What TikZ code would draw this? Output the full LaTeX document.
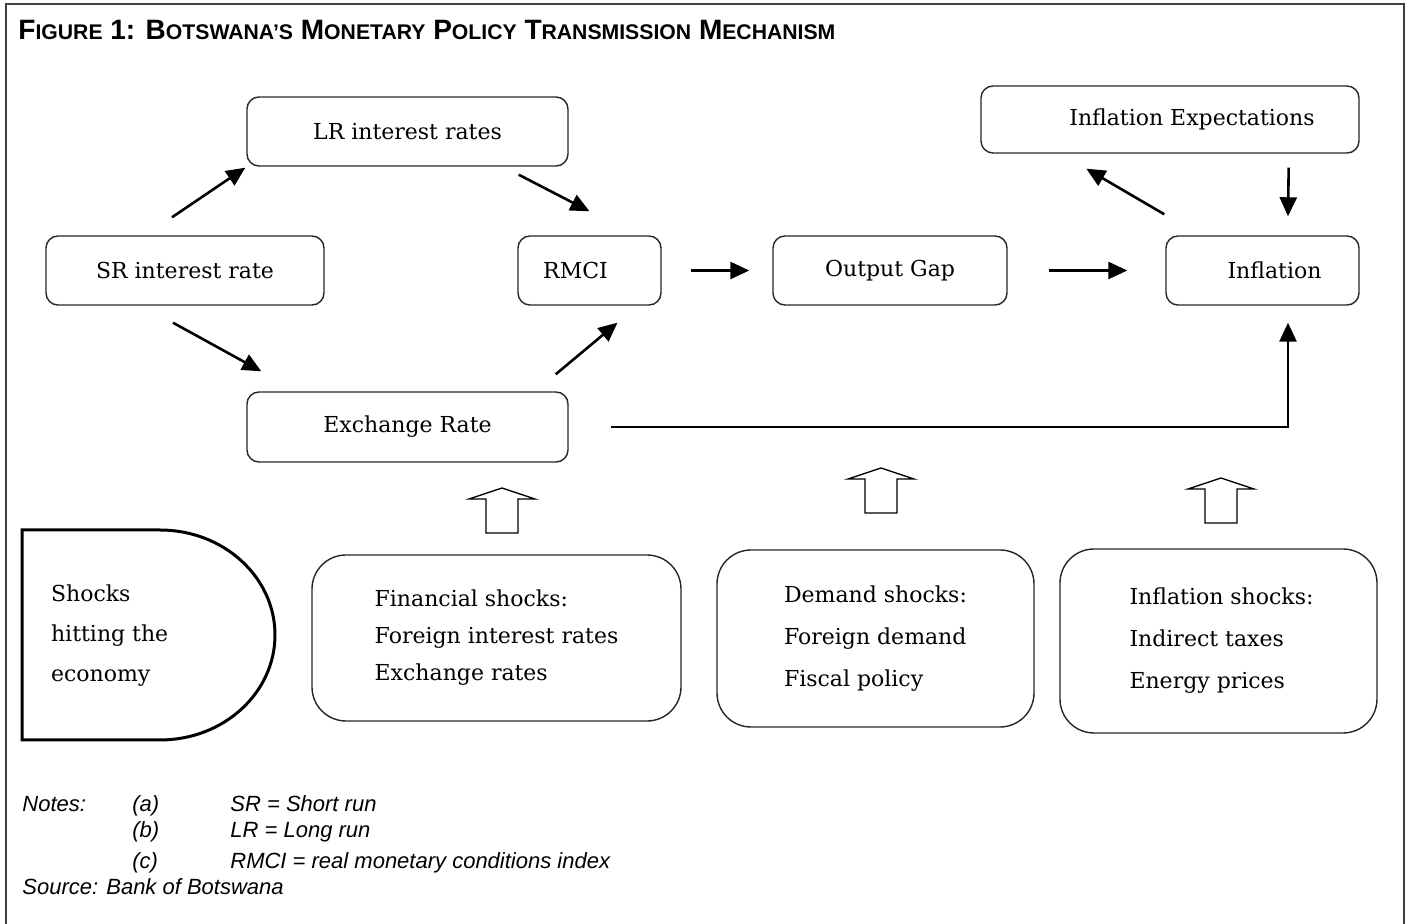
\documentclass[tikz,border=0pt]{standalone}
\usepackage{fontspec}
\setmainfont{DejaVu Serif}
\newfontfamily\sansfont{Liberation Sans}
\usetikzlibrary{arrows.meta,calc}

\newcommand{\smc}[1]{{\fontsize{10.6pt}{12pt}\selectfont #1}}

\tikzset{
  box/.style={draw=black!85, line width=0.7pt, rounded corners=6pt,
    inner sep=0pt, font=\fontsize{11pt}{13pt}\selectfont},
  shockbox/.style={draw=black!85, line width=0.7pt, rounded corners=17pt,
    inner sep=0pt, align=left},
  arr/.style={line width=1.3pt, -{Triangle[length=9.5pt,width=8.5pt]}},
  blockarrow/.style={line width=0.7pt, line join=miter}
}

\begin{document}
\begin{tikzpicture}[x=0.5pt, y=-0.5pt]
\useasboundingbox (0,0) rectangle (1409,924);

% frame and title
\draw[black!75, line width=1pt] (6,924) -- (6,4) -- (1404,4) -- (1404,924);
\node[anchor=base west, inner sep=0pt, font=\sansfont\bfseries\fontsize{14pt}{16pt}\selectfont] (title) at (18,40)
  {F\smc{IGURE} 1: B\smc{OTSWANA’S} M\smc{ONETARY} P\smc{OLICY} T\smc{RANSMISSION} M\smc{ECHANISM}};

% transmission channel
\node[box, minimum width=160.5pt, minimum height=34.5pt] (lr) at (407.5,131.5) {LR interest rates};
\node[box, minimum width=139pt, minimum height=34.5pt] (sr) at (185,270.5) {SR interest rate};
\node[box, minimum width=71.5pt, minimum height=34.5pt] (rmci) at (589.5,270.5) {\hspace{-14pt}RMCI};
\node[box, minimum width=117pt, minimum height=34.5pt] (gap) at (890,270.5) {Output Gap};
\node[box, minimum width=96.5pt, minimum height=34.5pt] (infl) at (1262.5,270.5) {\hspace{12pt}Inflation};
\node[box, minimum width=189pt, minimum height=33.5pt] (expect) at (1170,119.5) {\hspace{22pt}Inflation Expectations};
\node[box, minimum width=160.5pt, minimum height=35pt] (exch) at (407.5,427) {Exchange Rate};

\draw[arr] ([xshift=-6.5pt,yshift=9pt]sr.north) -- ([xshift=-0.5pt,yshift=-0.5pt]lr.south west);
\draw[arr] ([xshift=-25pt,yshift=-4pt]lr.south east) -- ([yshift=12pt]rmci.north);
\draw[arr] ([xshift=-6pt,yshift=-8.5pt]sr.south) -- ([xshift=7.5pt,yshift=10pt]exch.north west);
\draw[arr] ([xshift=-6.5pt,yshift=8.5pt]exch.north east) -- ([xshift=14pt,yshift=-8.5pt]rmci.south);
\draw[arr] ([xshift=14.5pt]rmci.east) -- ([xshift=-11.5pt]gap.west);
\draw[arr] ([xshift=20.5pt]gap.east) -- ([xshift=-19pt]infl.west);
\draw[arr] ([xshift=-0.5pt,yshift=10.5pt]infl.north west) -- ([xshift=53pt,yshift=-7.5pt]expect.south west);
\draw[arr] ([xshift=-35.5pt,yshift=-7pt]expect.south east) -- ([xshift=12.75pt,yshift=9.5pt]infl.north);
\draw[arr] ([xshift=21pt]exch.east) -| ([xshift=12.75pt,yshift=-8.5pt]infl.south);

% shocks
\draw[line width=1.5pt] (22,530) -- (160,530) .. controls (223.5,530) and (275,577) .. (275,635)
  .. controls (275,693) and (223.5,740) .. (160,740) -- (22,740) -- cycle;
\node[anchor=west, align=left, font=\fontsize{11pt}{20pt}\selectfont] (hit) at (44,636)
  {Shocks\\hitting the\\economy};

\node[shockbox, minimum width=184.5pt, minimum height=83pt, font=\fontsize{11pt}{18.5pt}\selectfont] (fin) at (496.5,638)
  {Financial shocks:\\Foreign interest rates\\Exchange rates};
\node[shockbox, minimum width=158.5pt, minimum height=88.5pt, font=\fontsize{11pt}{21pt}\selectfont] (dem) at (875.5,638.5)
  {Demand shocks:\\Foreign demand\\Fiscal policy\hspace{3pt}};
\node[shockbox, minimum width=158.5pt, minimum height=92pt, font=\fontsize{11pt}{21pt}\selectfont] (infsh) at (1218.5,641)
  {\hspace{3pt}Inflation shocks:\\\hspace{3pt}Indirect taxes\\\hspace{3pt}Energy prices};

\foreach \cx/\ty in {502/488, 881/468, 1221/478}
  \draw[blockarrow] (\cx,\ty) -- (\cx+33,\ty+11) -- (\cx+16,\ty+11) -- (\cx+16,\ty+45)
    -- (\cx-16,\ty+45) -- (\cx-16,\ty+11) -- (\cx-33,\ty+11) -- cycle;

% notes
\begin{scope}[every node/.style={anchor=base west, inner sep=0pt, font=\sansfont\itshape\fontsize{11pt}{13pt}\selectfont}]
\node (notes) at (22,812) {Notes:};
\node (na) at (132,812) {(a)};
\node (ta) at (230,812) {SR = Short run};
\node (nb) at (132,837) {(b)};
\node (tb) at (230,837) {LR = Long run};
\node (nc) at (132,868) {(c)};
\node (tc) at (230,868) {RMCI = real monetary conditions index};
\node (src) at (22,894) {Source: Bank of Botswana};
\end{scope}
\end{tikzpicture}
\end{document}
